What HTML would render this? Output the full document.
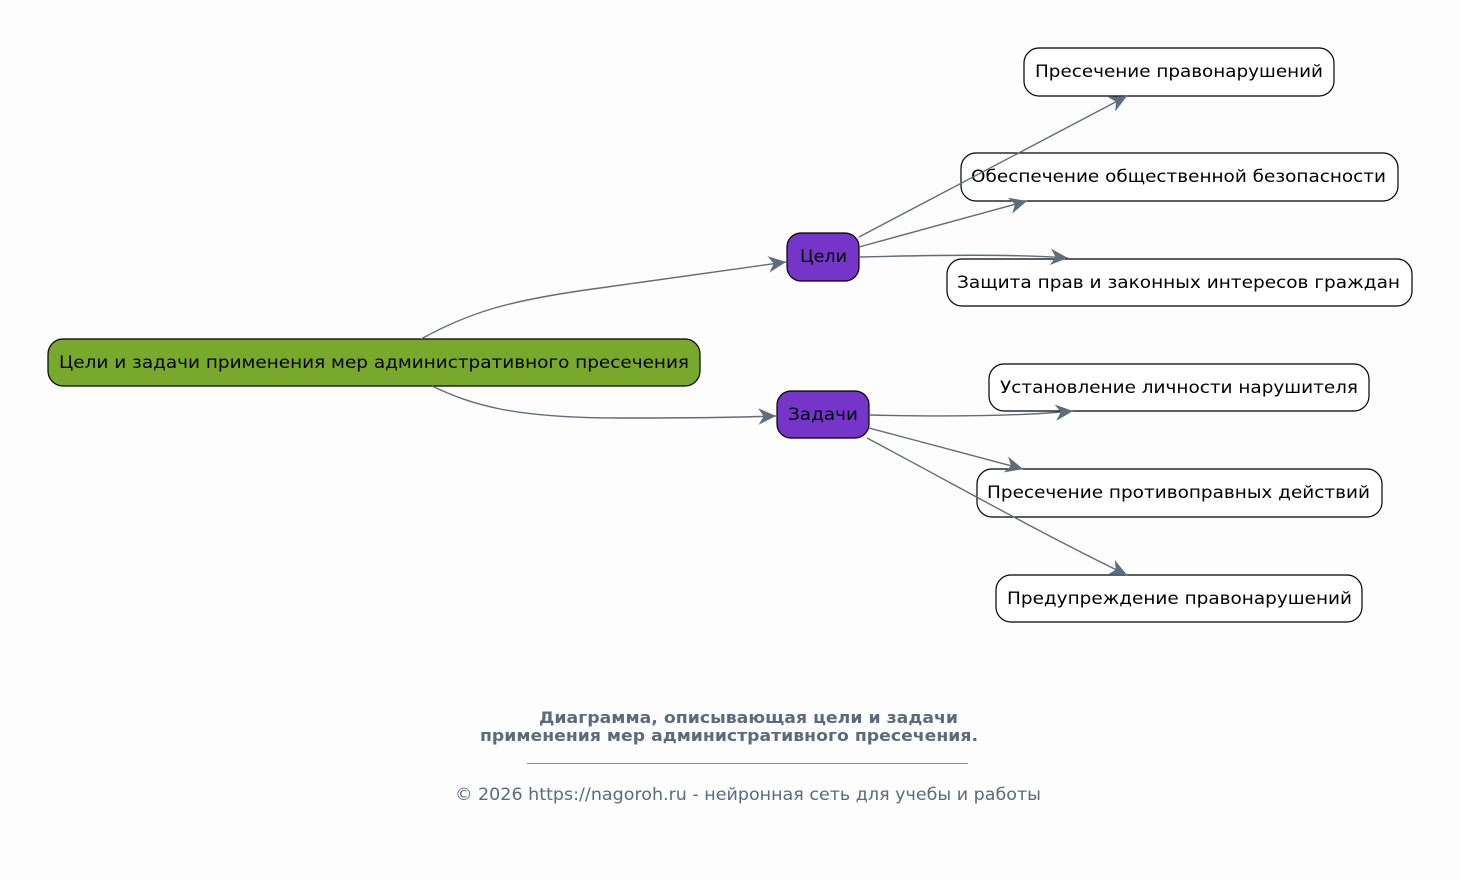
<!DOCTYPE html>
<html><head><meta charset="utf-8"><style>
html,body{margin:0;padding:0;background:#fdfdfd;}
svg{display:block;}
text{font-family:"DejaVu Sans","Liberation Sans",sans-serif;}
</style></head><body>
<svg width="1460" height="879" viewBox="0 0 1460 879" xmlns="http://www.w3.org/2000/svg">
<defs>
<marker id="a" markerUnits="userSpaceOnUse" markerWidth="20" markerHeight="20" viewBox="-16 -8 17 16" refX="0" refY="0" orient="auto">
<path d="M0,0 L-15,-7 L-10.5,0 L-15,7 Z" fill="#5f6c7b"/>
</marker>
</defs>
<rect width="1460" height="879" fill="#fdfdfd"/>
<g stroke="#000" stroke-width="1.2">
<rect x="48" y="339" width="652" height="47" rx="15" fill="#78a92c"/>
<rect x="787" y="233" width="72" height="48" rx="14" fill="#7635c9"/>
<rect x="777" y="391" width="92" height="47" rx="14" fill="#7635c9"/>
<rect x="1024" y="48" width="310" height="48" rx="15" fill="#fff"/>
<rect x="961" y="153" width="437" height="48" rx="15" fill="#fff"/>
<rect x="947" y="259" width="465" height="47" rx="15" fill="#fff"/>
<rect x="989" y="364" width="380" height="47" rx="15" fill="#fff"/>
<rect x="977" y="469" width="405" height="48" rx="15" fill="#fff"/>
<rect x="996" y="575" width="366" height="47" rx="15" fill="#fff"/>
</g>
<g font-size="17" fill="#000" lengthAdjust="spacingAndGlyphs">
<text x="59" y="368" textLength="630" lengthAdjust="spacingAndGlyphs">Цели и задачи применения мер административного пресечения</text>
<text x="800" y="262" textLength="47" lengthAdjust="spacingAndGlyphs">Цели</text>
<text x="788" y="420" textLength="70" lengthAdjust="spacingAndGlyphs">Задачи</text>
<text x="1035" y="77" textLength="288" lengthAdjust="spacingAndGlyphs">Пресечение правонарушений</text>
<text x="971" y="182" textLength="415" lengthAdjust="spacingAndGlyphs">Обеспечение общественной безопасности</text>
<text x="957" y="288" textLength="443" lengthAdjust="spacingAndGlyphs">Защита прав и законных интересов граждан</text>
<text x="1000" y="393" textLength="358" lengthAdjust="spacingAndGlyphs">Установление личности нарушителя</text>
<text x="987" y="498" textLength="383" lengthAdjust="spacingAndGlyphs">Пресечение противоправных действий</text>
<text x="1007" y="604" textLength="345" lengthAdjust="spacingAndGlyphs">Предупреждение правонарушений</text>
</g>
<g fill="none" stroke="#5f6c7b" stroke-width="1.4">
<path d="M421,339 C470,312 510,300 600,288 S740,268 786,262" marker-end="url(#a)"/>
<path d="M432,386 C470,404 510,418 620,418 S740,417 776,416" marker-end="url(#a)"/>
<path d="M859,237 L1127,96" marker-end="url(#a)"/>
<path d="M859,247 L1027,201" marker-end="url(#a)"/>
<path d="M859,257 C940,255 1010,254 1068,258" marker-end="url(#a)"/>
<path d="M869,415 C950,417 1020,416 1073,411" marker-end="url(#a)"/>
<path d="M869,428 L1023,469" marker-end="url(#a)"/>
<path d="M867,438 C950,482 1040,533 1127,575" marker-end="url(#a)"/>
</g>
<g fill="#5c6a7a">
<text x="539" y="723" font-size="16" font-weight="bold" textLength="419" lengthAdjust="spacingAndGlyphs">Диаграмма, описывающая цели и задачи</text>
<text x="480" y="741" font-size="16" font-weight="bold" textLength="498" lengthAdjust="spacingAndGlyphs">применения мер административного пресечения.</text>
<line x1="527" y1="763.5" x2="968" y2="763.5" stroke="#8a94a0" stroke-width="1"/>
<text x="455" y="800" font-size="17" textLength="586" lengthAdjust="spacingAndGlyphs">© 2026 https://nagoroh.ru - нейронная сеть для учебы и работы</text>
</g>
</svg>
</body></html>
